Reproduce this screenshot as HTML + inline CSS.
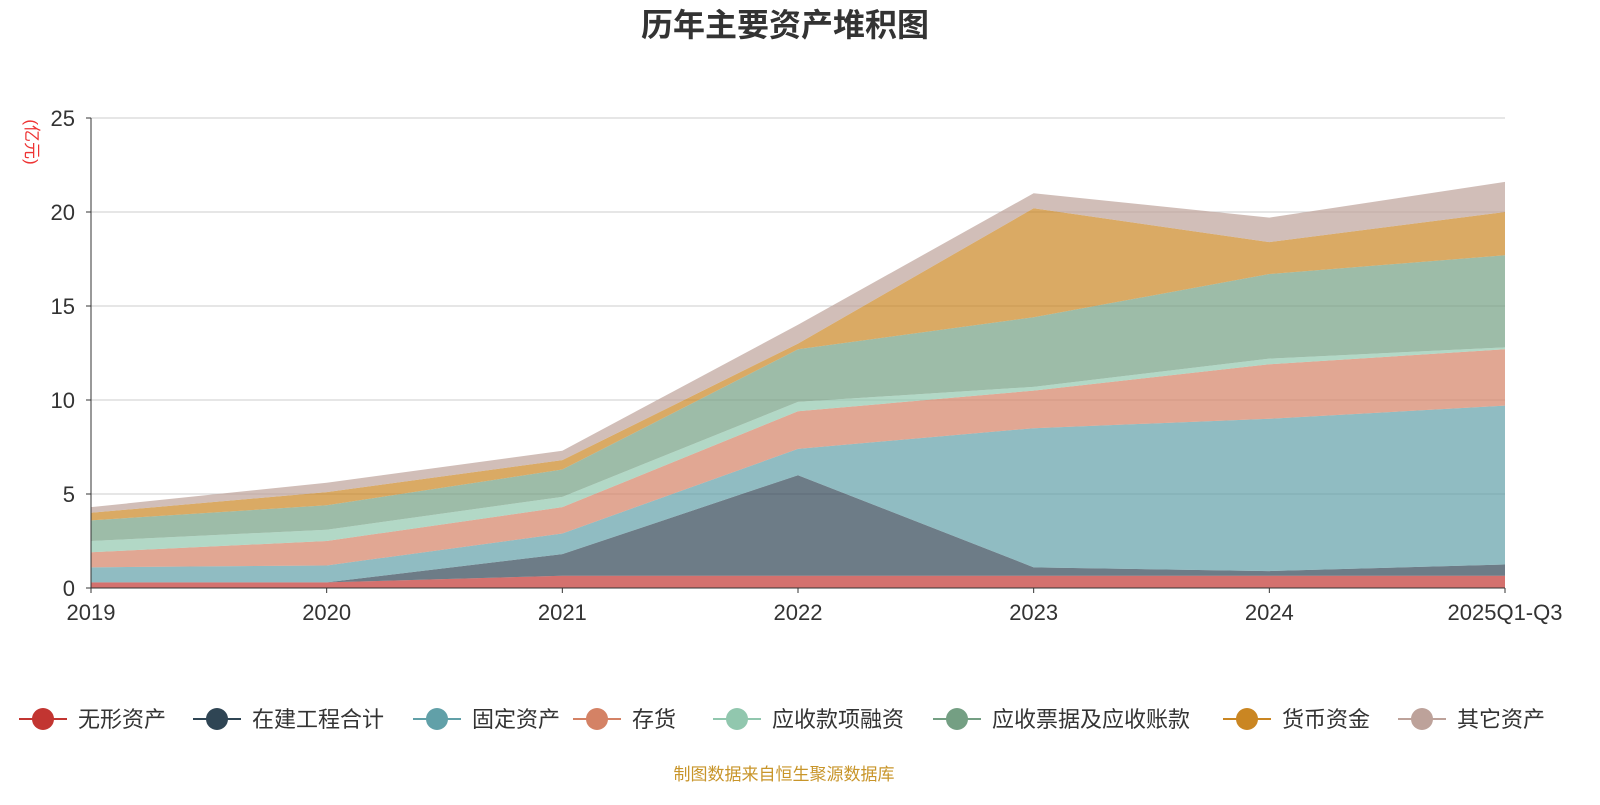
<!DOCTYPE html>
<html><head><meta charset="utf-8"><style>
body{margin:0;background:#fff;font-family:"Liberation Sans","Noto Sans CJK SC",sans-serif;}
svg text{font-family:"Liberation Sans","Noto Sans CJK SC",sans-serif;}
</style></head><body>
<svg id="chart" width="1600" height="800" xmlns="http://www.w3.org/2000/svg">
<text x="785" y="36" text-anchor="middle" font-size="32" font-weight="bold" fill="#333">历年主要资产堆积图</text>
<text x="0" y="0" text-anchor="middle" font-size="17" fill="#e33" transform="translate(26 142) rotate(90)">(亿元)</text>
<g id="grid"></g><g id="areas"></g><g id="axes"></g><g id="legend"></g>
<text x="784" y="780" text-anchor="middle" font-size="17" fill="#c8952a">制图数据来自恒生聚源数据库</text>
</svg>
<script>
const categories=["2019","2020","2021","2022","2023","2024","2025Q1-Q3"];
const seriesNames=["无形资产","在建工程合计","固定资产","存货","应收款项融资","应收票据及应收账款","货币资金","其它资产"];
const s_wuxing=[0.3,0.3,0.65,0.65,0.65,0.65,0.65];
const s_zaijian=[0,0,1.15,5.35,0.45,0.25,0.6];
const s_guding=[0.8,0.9,1.1,1.4,7.4,8.1,8.45];
const s_cunhuo=[0.8,1.3,1.4,2.0,2.0,2.9,3.0];
const s_rongzi=[0.6,0.6,0.55,0.5,0.2,0.3,0.1];
const s_piaoju=[1.1,1.3,1.45,2.8,3.7,4.5,4.9];
const s_huobi=[0.4,0.7,0.5,0.3,5.8,1.7,2.3];
const s_qita=[0.3,0.5,0.5,1.0,0.8,1.3,1.6];
const yTicks=[0,5,10,15,20,25];
const series=[s_wuxing,s_zaijian,s_guding,s_cunhuo,s_rongzi,s_piaoju,s_huobi,s_qita];
const colors=["#c23531","#2f4554","#61a0a8","#d48265","#91c7ae","#749f83","#ca8622","#bda29a"];
const NS="http://www.w3.org/2000/svg";
const x0=91,x1=1505,y0=588,y1=118,yMax=25;
const xs=i=>x0+(x1-x0)*i/(categories.length-1);
const ys=v=>y0-(y0-y1)*v/yMax;
function mk(t,a,p){const e=document.createElementNS(NS,t);for(const k in a)e.setAttribute(k,a[k]);p.appendChild(e);return e;}
const grid=document.getElementById('grid'),areas=document.getElementById('areas'),axes=document.getElementById('axes'),legend=document.getElementById('legend');
yTicks.forEach(t=>{
 if(t>0){const l=mk('line',{x1:x0,x2:x1,y1:ys(t),y2:ys(t),stroke:'#ccc','stroke-width':1},grid);
 
 }
 const tx=mk('text',{x:x0-16,y:ys(t)+8,'text-anchor':'end','font-size':22,fill:'#333'},axes);tx.textContent=t;
 
 
 mk('line',{x1:x0-5,x2:x0,y1:ys(t),y2:ys(t),stroke:'#333'},axes);
});
let cum=categories.map(()=>0);
series.forEach((s,si)=>{
 const lower=cum.slice();cum=cum.map((c,i)=>c+s[i]);
 let d='M'+cum.map((v,i)=>xs(i)+','+ys(v)).join(' L');
 for(let i=categories.length-1;i>=0;i--)d+=' L'+xs(i)+','+ys(lower[i]);
 const p=mk('path',{d:d+'Z',fill:colors[si],'fill-opacity':0.7,stroke:'none'},areas);
 
 
});
mk('line',{x1:x0,x2:x0,y1:y1,y2:y0,stroke:'#333'},axes);
mk('line',{x1:x0,x2:x1,y1:y0,y2:y0,stroke:'#333'},axes);
categories.forEach((c,i)=>{
 mk('line',{x1:xs(i),x2:xs(i),y1:y0,y2:y0+5,stroke:'#333'},axes);
 const tx=mk('text',{x:xs(i),y:y0+32,'text-anchor':'middle','font-size':22,fill:'#333'},axes);tx.textContent=c;
 
 
});
const lx=[19,193,413,573,713,933,1223,1398];
seriesNames.forEach((n,i)=>{
 const g=mk('g',{},legend);
 
 
 mk('line',{x1:lx[i],x2:lx[i]+48,y1:719,y2:719,stroke:colors[i],'stroke-width':2},g);
 mk('circle',{cx:lx[i]+24,cy:719,r:11,fill:colors[i]},g);
 const t=mk('text',{x:lx[i]+59,y:727,'font-size':22,fill:'#333'},g);t.textContent=n;
});
</script>
</body></html>
